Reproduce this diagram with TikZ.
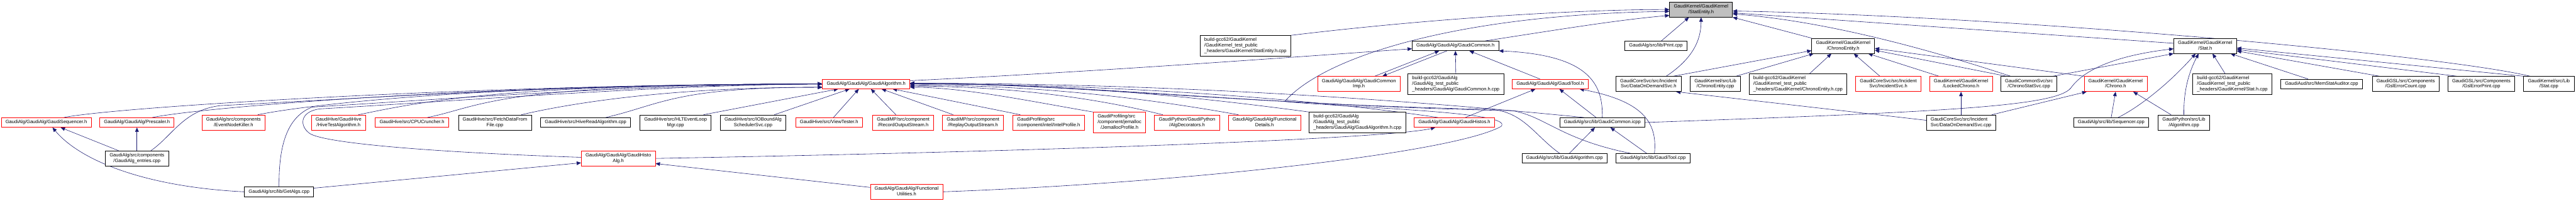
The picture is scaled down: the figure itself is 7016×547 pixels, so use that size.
\documentclass[tikz,border=0pt]{standalone}
\usepackage{fontspec}
\setmainfont{Liberation Sans}
\usetikzlibrary{arrows.meta}
\definecolor{edgeblue}{HTML}{191970}
\pgfdeclarelayer{edges}
\pgfsetlayers{edges,main}
\newcommand{\twoln}[2]{\begin{tabular}{@{}l@{}}#1\\\multicolumn{1}{@{}c@{}}{#2}\end{tabular}}
\newcommand{\threeln}[3]{\begin{tabular}{@{}l@{}}#1\\#2\\\multicolumn{1}{@{}c@{}}{#3}\end{tabular}}
\begin{document}
\begin{tikzpicture}[x=1pt,y=-1pt,
  gnode/.style={rectangle,draw,fill=white,line width=1.3pt,inner xsep=11.5pt,inner ysep=5.5pt,
    font=\fontsize{13}{15}\selectfont,execute at begin node=\strut},
  inc/.style={gnode,draw=black},
  trunc/.style={gnode,draw=red},
  focus/.style={gnode,draw=black,fill=black!25},
  dep/.style={draw=edgeblue,line width=1pt,-{Triangle[length=12pt,width=10pt]}}]
  \useasboundingbox (0,0) rectangle (7016,547);

  \node[focus] (statent) at (4633,26) {\twoln{GaudiKernel/GaudiKernel}{/StatEntity.h}};

  \node[inc] (sebuild) at (3392,125) {\threeln{build-gcc62/GaudiKernel}{/GaudiKernel\_test\_public}{\_headers/GaudiKernel/StatEntity.h.cpp}};
  \node[inc] (gcommon) at (3964,125) {GaudiAlg/GaudiAlg/GaudiCommon.h};
  \node[inc] (print) at (4510,125) {GaudiAlg/src/lib/Print.cpp};
  \node[inc] (chronoh) at (5020,125) {\twoln{GaudiKernel/GaudiKernel}{/ChronoEntity.h}};
  \node[inc] (stath) at (6006,125) {\twoln{GaudiKernel/GaudiKernel}{/Stat.h}};

  \node[trunc] (galgh) at (2359,229) {GaudiAlg/GaudiAlg/GaudiAlgorithm.h};
  \node[trunc] (gcimp) at (3701,229) {\twoln{GaudiAlg/GaudiAlg/GaudiCommon}{Imp.h}};
  \node[inc] (gcbuild) at (3965,229) {\threeln{build-gcc62/GaudiAlg}{/GaudiAlg\_test\_public}{\_headers/GaudiAlg/GaudiCommon.h.cpp}};
  \node[trunc] (gtool) at (4222,229) {GaudiAlg/GaudiAlg/GaudiTool.h};
  \node[inc] (dodh) at (4490,229) {\twoln{GaudiCoreSvc/src/Incident}{Svc/DataOnDemandSvc.h}};
  \node[inc] (chronocpp) at (4672,229) {\twoln{GaudiKernel/src/Lib}{/ChronoEntity.cpp}};
  \node[inc] (chbuild) at (4897,229) {\threeln{build-gcc62/GaudiKernel}{/GaudiKernel\_test\_public}{\_headers/GaudiKernel/ChronoEntity.h.cpp}};
  \node[trunc] (incsvc) at (5143,229) {\twoln{GaudiCoreSvc/src/Incident}{Svc/IncidentSvc.h}};
  \node[trunc] (lockch) at (5341,229) {\twoln{GaudiKernel/GaudiKernel}{/LockedChrono.h}};
  \node[inc] (chstat) at (5526,229) {\twoln{GaudiCommonSvc/src}{/ChronoStatSvc.cpp}};
  \node[trunc] (chrono) at (5762,229) {\twoln{GaudiKernel/GaudiKernel}{/Chrono.h}};
  \node[inc] (statbuild) at (6080,229) {\threeln{build-gcc62/GaudiKernel}{/GaudiKernel\_test\_public}{\_headers/GaudiKernel/Stat.h.cpp}};
  \node[inc] (memstat) at (6323,229) {GaudiAud/src/MemStatAuditor.cpp};
  \node[inc] (gslcount) at (6552,229) {\twoln{GaudiGSL/src/Components}{/GslErrorCount.cpp}};
  \node[inc] (gslprint) at (6758,229) {\twoln{GaudiGSL/src/Components}{/GslErrorPrint.cpp}};
  \node[inc] (statcpp) at (6942,229) {\twoln{GaudiKernel/src/Lib}{/Stat.cpp}};

  \node[trunc] (seq) at (126,334) {GaudiAlg/GaudiAlg/GaudiSequencer.h};
  \node[trunc] (presc) at (373,334) {GaudiAlg/GaudiAlg/Prescaler.h};
  \node[trunc] (enk) at (636,334) {\twoln{GaudiAlg/src/components}{/EventNodeKiller.h}};
  \node[trunc] (htalg) at (922,334) {\twoln{GaudiHive/GaudiHive}{/HiveTestAlgorithm.h}};
  \node[trunc] (cpucr) at (1122,334) {GaudiHive/src/CPUCruncher.h};
  \node[inc] (fetch) at (1348,334) {\twoln{GaudiHive/src/FetchDataFrom}{File.cpp}};
  \node[inc] (hiveread) at (1595,334) {GaudiHive/src/HiveReadAlgorithm.cpp};
  \node[inc] (hlt) at (1840,334) {\twoln{GaudiHive/src/HLTEventLoop}{Mgr.cpp}};
  \node[inc] (iobound) at (2051,334) {\twoln{GaudiHive/src/IOBoundAlg}{SchedulerSvc.cpp}};
  \node[trunc] (viewt) at (2258,334) {GaudiHive/src/ViewTester.h};
  \node[trunc] (recout) at (2460,334) {\twoln{GaudiMP/src/component}{/RecordOutputStream.h}};
  \node[trunc] (repout) at (2650,334) {\twoln{GaudiMP/src/component}{/ReplayOutputStream.h}};
  \node[trunc] (intelprof) at (2856,334) {\twoln{GaudiProfiling/src}{/component/intel/IntelProfile.h}};
  \node[trunc] (jemalloc) at (3049,334) {\threeln{GaudiProfiling/src}{/component/jemalloc}{/JemallocProfile.h}};
  \node[trunc] (algdec) at (3233,334) {\twoln{GaudiPython/GaudiPython}{/AlgDecorators.h}};
  \node[trunc] (funcdet) at (3444,334) {\twoln{GaudiAlg/GaudiAlg/Functional}{Details.h}};
  \node[inc] (gabuild) at (3697,334) {\threeln{build-gcc62/GaudiAlg}{/GaudiAlg\_test\_public}{\_headers/GaudiAlg/GaudiAlgorithm.h.cpp}};
  \node[trunc] (ghistos) at (3961,334) {GaudiAlg/GaudiAlg/GaudiHistos.h};
  \node[inc] (gcicpp) at (4364,334) {GaudiAlg/src/lib/GaudiCommon.icpp};
  \node[inc] (dodcpp) at (5341,334) {\twoln{GaudiCoreSvc/src/Incident}{Svc/DataOnDemandSvc.cpp}};
  \node[inc] (seqcpp) at (5750,334) {GaudiAlg/src/lib/Sequencer.cpp};
  \node[inc] (pyalg) at (5948,334) {\twoln{GaudiPython/src/Lib}{/Algorithm.cpp}};

  \node[inc] (entries) at (373,432) {\twoln{GaudiAlg/src/components}{/GaudiAlg\_entries.cpp}};
  \node[trunc] (histoalg) at (1684,432) {\twoln{GaudiAlg/GaudiAlg/GaudiHisto}{Alg.h}};
  \node[inc] (galgcpp) at (4261,432) {GaudiAlg/src/lib/GaudiAlgorithm.cpp};
  \node[inc] (gtoolcpp) at (4502,432) {GaudiAlg/src/lib/GaudiTool.cpp};

  \node[inc] (getalgs) at (760,523) {GaudiAlg/src/lib/GetAlgs.cpp};
  \node[trunc] (funcutil) at (2469,523) {\twoln{GaudiAlg/GaudiAlg/Functional}{Utilities.h}};

  \begin{pgfonlayer}{edges}
  \foreach \s/\dx in {seq/48,presc/42,enk/66,htalg/54,cpucr/42}
    \draw[dep] ([xshift=\dx pt]\s.north) .. controls +(150,-30) and +(-900,0) .. (galgh.west);
  \foreach \s/\dx in {fetch/72,hiveread/55}
    \draw[dep] ([xshift=\dx pt]\s.north) .. controls +(150,-35) and +(-400,0) .. ([yshift=-9pt]galgh.west);
  \draw[dep] ([xshift=38pt]entries.north) .. controls (470,370) and (500,300) .. (600,288)
    .. controls (1100,262) and (1500,232) .. (galgh.west);
  \draw[dep] (getalgs.north) .. controls (759,400) and (780,320) .. (850,292)
    .. controls (1250,268) and (1700,232) .. (galgh.west);
  \draw[dep] ([yshift=3pt]histoalg.west) .. controls (1250,418) and (900,395) .. (845,365)
    .. controls (815,345) and (815,305) .. (870,297) .. controls (1300,272) and (1800,232) .. (galgh.west);
  \draw[dep] ([xshift=76pt]hlt.north) -- ([xshift=-76pt]galgh.south);
  \draw[dep] ([xshift=58pt]iobound.north) -- ([xshift=-45pt]galgh.south);
  \draw[dep] ([xshift=12pt]viewt.north) -- ([xshift=-20pt]galgh.south);
  \draw[dep] ([xshift=-20pt]recout.north) -- ([xshift=13pt]galgh.south);
  \draw[dep] ([xshift=-54pt]repout.north) -- ([xshift=42pt]galgh.south);
  \draw[dep] ([xshift=-77pt]intelprof.north) -- ([xshift=72pt]galgh.south);
  \draw[dep] (jemalloc.north west) .. controls +(-150,-25) and +(150,0) .. ([yshift=-9pt]galgh.east);
  \draw[dep] ([xshift=23pt]algdec.north west) .. controls +(-200,-50) and +(250,0) .. ([yshift=-6pt]galgh.east);
  \draw[dep] ([xshift=28pt]funcdet.north west) .. controls +(-250,-45) and +(350,0) .. ([yshift=-3pt]galgh.east);
  \draw[dep] (gabuild.north west) .. controls +(-300,-40) and +(450,0) .. (galgh.east);
  \draw[dep] ([xshift=-45pt]ghistos.north) .. controls +(-300,-45) and +(600,0) .. (galgh.east);
  \draw[dep] ([xshift=-50pt]gcicpp.north) .. controls +(-350,-35) and +(800,0) .. ([yshift=2pt]galgh.east);
  \draw[dep] ([xshift=-13pt]galgcpp.north) .. controls (4180,370) and (4150,305) .. (4060,298)
    .. controls (3400,285) and (2900,228) .. ([yshift=2pt]galgh.east);
  \draw[dep] ([xshift=-60pt]gtoolcpp.north) .. controls (4250,380) and (4210,318) .. (4120,302)
    .. controls (3450,288) and (2950,228) .. ([yshift=2pt]galgh.east);

  \draw[dep] (sebuild.north east) .. controls (3900,50) and (4300,26) .. (statent.west);
  \draw[dep] (funcutil.east) .. controls (3200,500) and (3950,420) .. (4088,345)
    .. controls (4130,305) and (3700,295) .. (3499,277) .. controls (3600,160) and (3950,40) .. ([yshift=-5pt]statent.west);
  \draw[dep] ([xshift=82pt]gcommon.north) .. controls (4250,80) and (4400,55) .. ([yshift=-16pt]statent.west);
  \draw[dep] ([xshift=15pt]print.north) -- ([xshift=-33pt]statent.south);
  \draw[dep] ([xshift=48pt]dodh.north) .. controls (4610,160) and (4633,110) .. (statent.south);
  \draw[dep] (chronoh.north west) -- (statent.south east);
  \draw[dep] ([yshift=7pt]stath.west) -- ([yshift=-9pt]statent.east);
  \draw[dep] ([xshift=-50pt]chstat.north) .. controls (5300,150) and (5000,60) .. ([yshift=-12pt]statent.east);
  \draw[dep] ([xshift=-51pt]statcpp.north) .. controls (6650,150) and (5500,45) .. ([yshift=-4pt]statent.east);

  \draw[dep] ([yshift=9pt]galgh.east) .. controls (3000,195) and (3600,150) .. ([yshift=-8pt]gcommon.west);
  \draw[dep] ([xshift=43pt]gcimp.north) -- ([xshift=-44pt]gcommon.south);
  \draw[dep] ([xshift=-23pt]gcommon.south) -- ([xshift=64pt]gcimp.north);
  \draw[dep] (gcbuild.north) -- (gcommon.south);
  \draw[dep] ([xshift=-28pt]gtool.north) -- ([xshift=38pt]gcommon.south);
  \draw[dep] (gcicpp.north) .. controls (4366,230) and (4330,150) .. (gcommon.south east);

  \draw[dep] ([xshift=30pt]ghistos.north) -- ([xshift=-40pt]gtool.south);
  \draw[dep] ([xshift=-17pt]gcicpp.north) -- ([xshift=25pt]gtool.south);
  \draw[dep] ([xshift=4pt]gtoolcpp.north) .. controls (4515,330) and (4470,275) .. ([xshift=80pt]gtool.south);
  \draw[dep] ([xshift=13pt]galgcpp.north) -- ([xshift=-20pt]gcicpp.south);
  \draw[dep] ([xshift=-17pt]gtoolcpp.north) -- ([xshift=22pt]gcicpp.south);

  \draw[dep] ([yshift=10pt]getalgs.east) -- ([yshift=-12pt]histoalg.west);
  \draw[dep] ([yshift=12pt]funcutil.west) -- ([yshift=-14pt]histoalg.east);
  \draw[dep] (histoalg.east) .. controls (3000,410) and (3800,375) .. ([xshift=-52pt]ghistos.south);
  \draw[dep] (getalgs.west) .. controls (400,510) and (220,440) .. ([xshift=17pt]seq.south);
  \draw[dep] ([xshift=-50pt]entries.north) -- ([xshift=39pt]seq.south);
  \draw[dep] (entries.north) -- (presc.south);

  \draw[dep] ([xshift=67pt]dodh.north) -- ([yshift=-13pt]chronoh.west);
  \draw[dep] ([xshift=56pt]chronocpp.north) -- ([xshift=6pt]chronoh.south west);
  \draw[dep] ([xshift=32pt]chbuild.north) -- ([xshift=-32pt]chronoh.south);
  \draw[dep] ([xshift=-23pt]incsvc.north) -- ([xshift=29pt]chronoh.south);
  \draw[dep] ([xshift=-60pt]lockch.north) -- ([xshift=68pt]chronoh.south);
  \draw[dep] (chrono.north west) -- ([yshift=-7pt]chronoh.east);
  \draw[dep] ([xshift=-61pt]chstat.north) -- ([yshift=-12pt]chronoh.east);

  \draw[dep] ([yshift=6pt]dodcpp.west) -- ([xshift=75pt]dodh.south);
  \draw[dep] (dodcpp.north) -- (lockch.south);
  \draw[dep] ([xshift=84pt]dodcpp.north) -- ([xshift=-79pt]chrono.south);
  \draw[dep] (seqcpp.north) -- (chrono.south);
  \draw[dep] ([xshift=-35pt]pyalg.north) -- ([xshift=48pt]chrono.south);

  \draw[dep] (gcicpp.east) .. controls (5300,305) and (5600,290) .. (5640,240)
    .. controls (5690,170) and (5820,145) .. ([yshift=-8pt]stath.west);
  \draw[dep] ([xshift=65pt]chstat.north) -- (stath.south west);
  \draw[dep] ([xshift=19pt]seqcpp.north) .. controls (5830,290) and (5910,225) .. ([xshift=-26pt]stath.south);
  \draw[dep] (pyalg.north) .. controls (5947,250) and (5960,200) .. ([xshift=-18pt]stath.south);
  \draw[dep] ([xshift=-20pt]statbuild.north) -- ([xshift=20pt]stath.south);
  \draw[dep] ([xshift=-37pt]memstat.north) -- ([xshift=69pt]stath.south);
  \draw[dep] ([xshift=-71pt]gslcount.north) -- ([yshift=-14pt]stath.east);
  \draw[dep] ([xshift=-66pt]gslprint.north) -- ([yshift=-10pt]stath.east);
  \draw[dep] (statcpp.north west) -- ([yshift=-6pt]stath.east);
  \end{pgfonlayer}
\end{tikzpicture}
\end{document}
